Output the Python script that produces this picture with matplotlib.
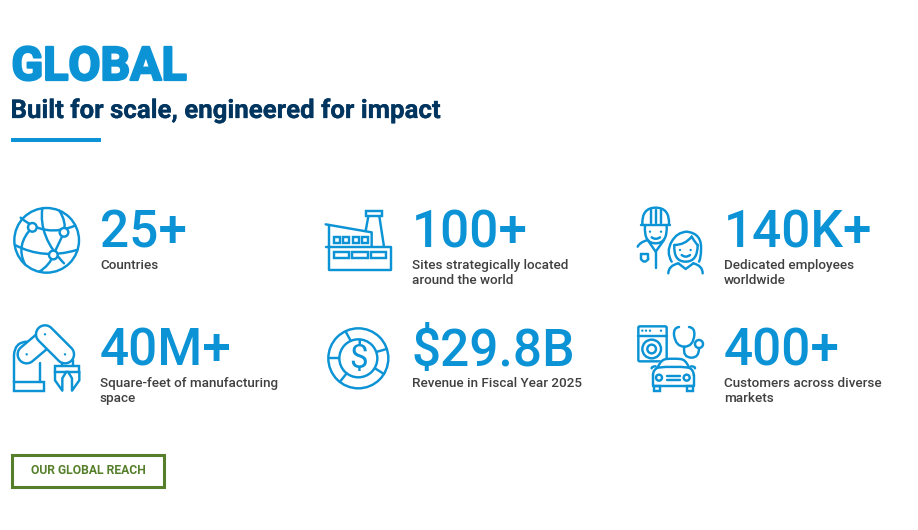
import matplotlib
matplotlib.use("Agg")
import matplotlib.pyplot as plt
import matplotlib.patheffects as pe
import numpy as np
from matplotlib.patches import Circle, Rectangle, PathPatch, FancyBboxPatch, Polygon
from matplotlib.path import Path

title = "GLOBAL"
subtitle = "Built for scale, engineered for impact"
stats = ["25+", "100+", "140K+", "40M+", "$29.8B", "400+"]
captions = ["Countries", "Sites strategically located\naround the world",
            "Dedicated employees\nworldwide", "Square-feet of manufacturing\nspace",
            "Revenue in Fiscal Year 2025", "Customers across diverse\nmarkets"]
button = "OUR GLOBAL REACH"

BLUE = "#0b93d5"; NAVY = "#003560"; GREY = "#404040"; GREEN = "#567f2b"
W, H = 918, 530
plt.rcParams["font.family"] = ["Roboto", "DejaVu Sans"]
fig = plt.figure(figsize=(W/100, H/100), dpi=100)
ax = fig.add_axes([0, 0, 1, 1]); ax.set_xlim(0, W); ax.set_ylim(H, 0); ax.axis("off")
LW = 1.75

class Ic:
    def __init__(s, ox, oy): s.ox, s.oy = ox, oy
    def p(s, x, y): return (s.ox + x/3, s.oy + y/3)
    def line(s, *pts, closed=False, lw=LW):
        P = [s.p(*q) for q in pts]
        if closed: P.append(P[0])
        ax.plot(*zip(*P), color=BLUE, lw=lw, solid_capstyle="round", solid_joinstyle="round")
    def curve(s, *pts, lw=LW):
        P = [s.p(*q) for q in pts]
        codes = [Path.MOVETO] + [Path.CURVE3]*(len(P)-1)
        ax.add_patch(PathPatch(Path(P, codes), fc="none", ec=BLUE, lw=lw, capstyle="round", zorder=2))
    def circ(s, x, y, r, fc="none", lw=LW, z=2):
        ax.add_patch(Circle(s.p(x, y), r/3, fc=fc, ec=BLUE, lw=lw, zorder=z))
    def rect(s, x0, y0, x1, y1, fc="none", lw=LW):
        a = s.p(x0, y0); b = s.p(x1, y1)
        ax.add_patch(Rectangle(a, b[0]-a[0], b[1]-a[1], fc=fc, ec=BLUE, lw=lw, zorder=2))
    def capsule(s, a, b, r):
        a = np.array(s.p(*a)); b = np.array(s.p(*b)); r = r/3
        ang = np.arctan2(b[1]-a[1], b[0]-a[0])
        t1 = np.linspace(ang+np.pi/2, ang+3*np.pi/2, 24); t2 = t1 + np.pi
        P = np.vstack([a + r*np.c_[np.cos(t1), np.sin(t1)], b + r*np.c_[np.cos(t2), np.sin(t2)]])
        ax.fill(P[:, 0], P[:, 1], fc="white", ec=BLUE, lw=LW, zorder=2)
    def dot(s, x, y, r=3.5):
        ax.add_patch(Circle(s.p(x, y), r/3, fc=BLUE, ec="none", zorder=3))

# Globe
g = Ic(0, 195)
g.circ(140, 136, 97)
g.curve((62, 68), (135, 130), (225, 92))
g.curve((45, 150), (130, 195), (230, 165))
g.curve((127, 40), (115, 125), (192, 205))
g.curve((178, 47), (200, 80), (192, 112))
g.line((192, 112), (160, 180))
g.curve((160, 180), (150, 210), (118, 230))
g.curve((97, 97), (45, 150), (75, 208))
g.circ(97, 97, 13, fc="white", z=3); g.circ(192, 112, 13, fc="white", z=3); g.circ(160, 180, 13, fc="white", z=3)

# Factory
f = Ic(315, 195)
f.line((32, 88), (170, 112), (170, 155))
f.line((42, 90), (42, 225), (228, 225), (228, 155), (32, 155))
f.rect(153, 47, 200, 64)
f.line((160, 64), (152, 108)); f.line((193, 64), (207, 155))
for x in (57, 85, 113, 140): f.rect(x, 127, x+18, 143)
for x in (57, 112, 167): f.rect(x, 172, x+46, 188)

# People
c = Ic(625, 195)
c.curve((52, 88), (50, 38), (92, 38), (134, 38), (132, 88))
c.line((47, 90), (135, 90))
for x in (78, 92, 107): c.line((x, 45), (x, 85))
c.curve((60, 92), (56, 145), (92, 145), (128, 145), (125, 92))
c.dot(75, 110); c.dot(108, 110)
c.curve((80, 127), (92, 136), (105, 127))
c.curve((38, 155), (44, 142), (68, 135))
c.line((68, 135), (92, 170), (117, 135))
c.line((92, 170), (92, 220))
c.line((48, 178), (70, 178), (70, 192)); c.line((48, 178), (48, 192)); c.curve((48, 192), (58, 208), (70, 192))
c.curve((140, 200), (122, 170), (140, 140), (155, 112), (185, 110), (232, 115), (228, 165), (228, 190), (222, 200))
c.curve((148, 150), (180, 150), (200, 125), (212, 145), (218, 150))
c.curve((148, 150), (145, 200), (182, 200), (218, 200), (218, 150))
c.dot(165, 165); c.dot(197, 165)
c.curve((170, 180), (182, 190), (195, 180))
c.curve((130, 235), (130, 212), (160, 205))
c.line((160, 205), (182, 222), (205, 205))
c.curve((205, 205), (233, 212), (233, 235))

# Robot
r = Ic(0, 195)
r.rect(42, 562, 132, 587)
r.curve((42, 562), (42, 520), (42, 480), (44, 442), (80, 440))
r.line((120, 562), (120, 505))
r.capsule((80, 478), (125, 440), 27)
r.capsule((135, 418), (195, 478), 27)
r.dot(80, 478); r.dot(135, 418); r.dot(195, 478)
r.line((187, 505), (187, 512)); r.line((220, 495), (220, 512))
r.rect(165, 512, 238, 530)
r.line((165, 530), (165, 556), (187, 587), (187, 550), (199, 530))
r.line((238, 530), (238, 556), (216, 587), (216, 550), (204, 530))

# Dollar
d = Ic(315, 195)
d.circ(130, 490, 90); d.circ(130, 490, 57)
for a, b in [((92, 410), (107, 437)), ((187, 470), (215, 462)), ((180, 520), (207, 537)),
             ((95, 535), (75, 560)), ((42, 490), (73, 490))]:
    d.line(a, b)
ax.text(*d.p(130, 492), "$", color=BLUE, fontsize=24, fontweight="normal", ha="center", va="center")

# Washer / stethoscope / car
w = Ic(625, 195)
ax.add_patch(FancyBboxPatch(w.p(40, 394), 85/3, 105/3, boxstyle="round,pad=0,rounding_size=1.5",
                            fc="none", ec=BLUE, lw=LW, zorder=1))
w.line((38, 422), (125, 422))
for x in (52, 63, 75, 108): w.dot(x, 407)
w.circ(80, 462, 28); w.circ(80, 462, 13)
w.curve((162, 396), (145, 398), (147, 420), (152, 455), (178, 455), (205, 455), (208, 420), (210, 398), (192, 396))
w.curve((178, 455), (172, 488), (200, 488), (222, 488), (222, 460))
w.circ(222, 447, 12, fc="white")
ax.add_patch(Polygon([w.p(*q) for q in [(85, 518), (112, 492), (178, 492), (205, 518), (205, 572), (85, 572)]],
                     fc="white", ec="none", zorder=1.5))
w.curve((98, 518), (108, 492), (125, 492), (145, 490), (165, 492), (182, 492), (192, 518))
w.curve((98, 518), (84, 525), (84, 540))
w.curve((192, 518), (206, 525), (206, 540))
w.line((84, 540), (84, 572), (206, 572), (206, 540))
w.curve((98, 518), (145, 512), (192, 518))
w.curve((80, 520), (80, 514), (92, 514)); w.curve((210, 520), (210, 514), (198, 514))
w.rect(87, 572, 105, 587); w.rect(185, 572, 203, 587)
w.circ(102, 548, 9); w.circ(185, 548, 9)
w.line((125, 542), (165, 542)); w.line((125, 555), (165, 555))

# Text
ax.text(11.5, 80, title, color=BLUE, fontsize=33.5, fontweight="bold", va="baseline", ha="left",
        path_effects=[pe.withStroke(linewidth=1.6, foreground=BLUE)])
ax.text(10.5, 118, subtitle, color=NAVY, fontsize=18.6, fontweight="bold", va="baseline", ha="left",
        path_effects=[pe.withStroke(linewidth=0.2, foreground=NAVY)])
ax.add_patch(Rectangle((11, 137.5), 89.5, 4, fc=BLUE, ec="none"))

cols = [100, 412, 724]
rows = [248, 366]
for i, (s, cap) in enumerate(zip(stats, captions)):
    x = cols[i % 3]; y = rows[i // 3]
    ax.text(x, y, s, color=BLUE, fontsize=37, fontweight="medium", va="baseline", ha="left")
    for j, t in enumerate(cap.split("\n")):
        ax.text(x, y + 21 + 15*j, t, color=GREY, fontsize=9.7, fontweight="medium", va="baseline", ha="left")

ax.add_patch(Rectangle((12.2, 454.5), 152, 32, fc="white", ec=GREEN, lw=2.2))
ax.text(88, 470.5, button, color=GREEN, fontsize=8.7, fontweight="bold", ha="center", va="center")

fig.savefig("out.png", dpi=100, facecolor="white")
